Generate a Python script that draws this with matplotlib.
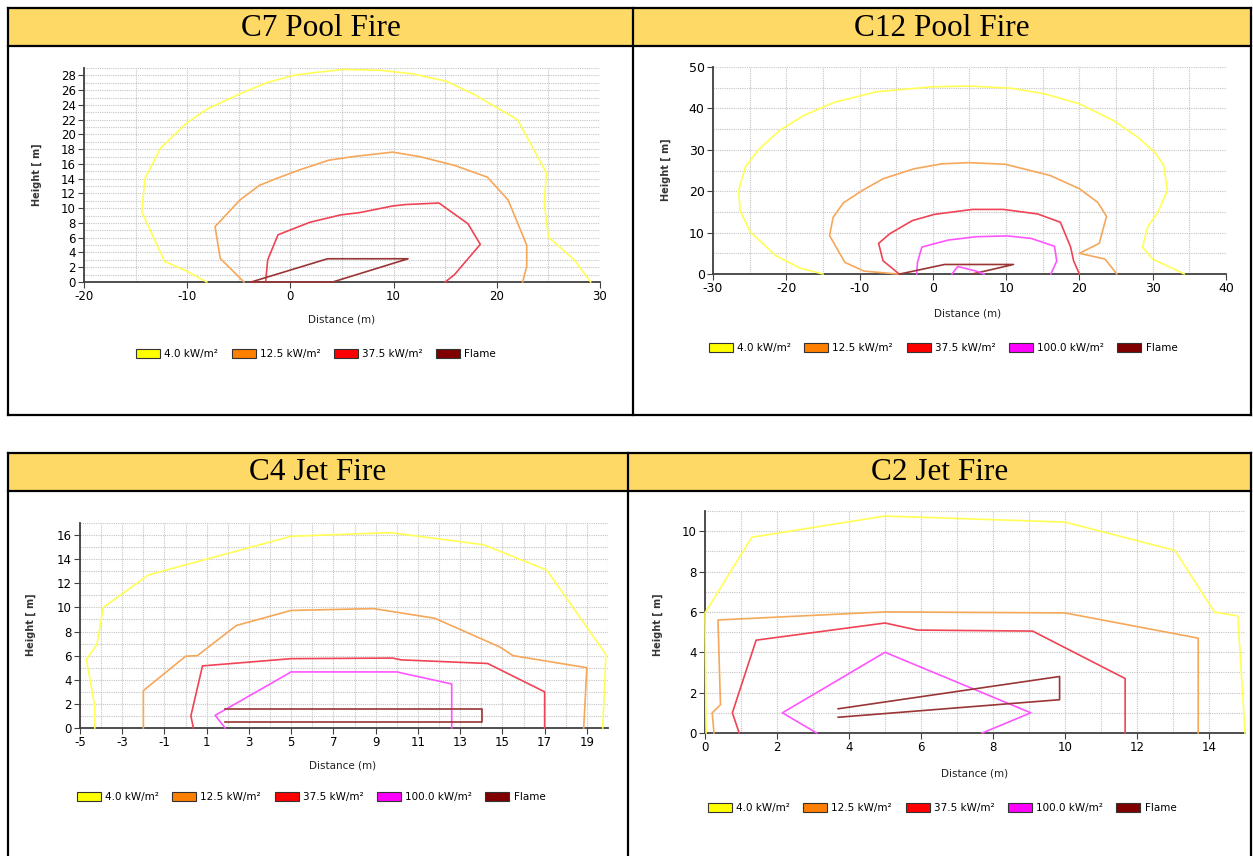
import matplotlib
matplotlib.use("Agg")
import matplotlib.pyplot as plt
import matplotlib.patches as mpatches
from matplotlib.lines import Line2D
from matplotlib.ticker import MultipleLocator

plt.rcParams["axes.unicode_minus"] = False

# ---- C7 pool fire ----
c7_x_4 = [-8.1, -10.1, -12.2, -14.4, -14.1, -12.6, -10.1, -8.1, -4.9, -2.3, 0.3, 2.5, 5.1, 8.6,
          11.9, 15.1, 17.7, 19.3, 22.0, 24.8, 24.6, 25.0, 27.5, 29.1]
c7_y_4 = [0, 1.5, 2.8, 9.5, 14.0, 18.1, 21.5, 23.4, 25.5, 27.0, 28.0, 28.4, 28.8, 28.7,
          28.2, 27.2, 25.5, 24.2, 22.0, 14.8, 10.7, 6.1, 3.0, 0]
c7_x_12 = [-4.5, -6.8, -7.3, -4.9, -3.0, -1.4, 0.9, 3.7, 6.1, 9.9, 12.5, 15.9, 19.1, 21.1, 22.9, 22.9, 22.5]
c7_y_12 = [0, 3.2, 7.5, 11.1, 13.1, 14.0, 15.2, 16.5, 17.0, 17.6, 17.0, 15.8, 14.2, 11.1, 5.0, 2.1, 0]
c7_x_37 = [-2.4, -2.2, -1.2, 1.9, 4.9, 6.7, 9.9, 11.2, 14.4, 17.2, 18.4, 15.9, 15.0]
c7_y_37 = [0, 3.0, 6.4, 8.1, 9.1, 9.4, 10.3, 10.5, 10.7, 7.9, 5.1, 1.0, 0]
c7_flame_x = [-3.8, 3.6, 11.4, 4.1, -3.8]
c7_flame_y = [0, 3.15, 3.15, 0, 0]

# ---- C12 pool fire ----
c12_x_4 = [-15.0, -18.1, -21.4, -24.9, -26.3, -26.5, -25.6, -23.7, -20.9, -17.6, -13.4, -7.7, -0.2,
           4.9, 10.6, 15.3, 20.0, 24.6, 27.9, 30.3, 31.5, 32.0, 30.8, 29.3, 28.6, 30.0, 34.3]
c12_y_4 = [0, 1.4, 4.4, 10.1, 15.3, 20.2, 25.8, 30.2, 34.7, 38.3, 41.5, 44.0, 45.2,
           45.4, 44.9, 43.5, 41.1, 37.1, 33.1, 29.4, 26.2, 20.2, 15.3, 11.3, 6.5, 3.6, 0]
c12_x_12 = [-4.8, -9.4, -12.0, -14.1, -13.6, -12.2, -9.6, -6.8, -2.6, 1.2, 4.9, 9.9, 16.0, 20.0,
            22.5, 23.7, 22.7, 20.0, 23.5, 25.1]
c12_y_12 = [0, 0.7, 2.8, 9.3, 13.7, 17.2, 20.2, 23.0, 25.4, 26.6, 26.9, 26.5, 23.8, 20.6,
            17.3, 13.9, 7.4, 5.0, 3.6, 0]
c12_x_37 = [-4.6, -6.8, -7.4, -5.9, -2.8, 0.2, 5.4, 9.6, 14.3, 17.4, 18.8, 19.2, 20.0]
c12_y_37 = [0, 3.2, 7.4, 9.7, 12.9, 14.4, 15.6, 15.6, 14.5, 12.5, 6.5, 3.2, 0]
c12_x_100 = [-2.2, -2.1, -1.5, 2.1, 5.9, 10.1, 13.4, 16.6, 16.9, 16.1]
c12_y_100 = [0, 2.8, 6.5, 8.2, 9.0, 9.2, 8.6, 6.7, 3.1, 0]
c12_x_100b = [2.6, 3.4, 5.9, 7.0]
c12_y_100b = [0, 1.8, 0.7, 0]
c12_flame_x = [-4.5, 1.6, 11.0, 5.4]
c12_flame_y = [0, 2.3, 2.3, 0]

# ---- C4 jet fire ----
c4_x_4 = [-4.3, -4.3, -4.7, -4.2, -3.9, -1.75, 5.0, 9.7, 14.1, 17.1, 19.9, 19.75]
c4_y_4 = [0, 1.8, 5.7, 6.9, 10.0, 12.7, 15.9, 16.2, 15.2, 13.1, 6.1, 0]
c4_x_12 = [-2.0, -2.0, 0.0, 0.56, 2.4, 5.0, 8.9, 11.8, 14.9, 15.5, 19.0, 18.85]
c4_y_12 = [0, 3.1, 5.95, 6.0, 8.5, 9.75, 9.9, 9.1, 6.7, 6.0, 5.0, 0]
c4_x_37 = [0.37, 0.25, 0.8, 5.0, 9.8, 10.2, 14.3, 17.0, 17.0]
c4_y_37 = [0, 1.0, 5.15, 5.75, 5.8, 5.65, 5.35, 3.0, 0]
c4_x_100 = [1.87, 1.4, 5.0, 10.0, 12.6, 12.6]
c4_y_100 = [0, 1.05, 4.65, 4.65, 3.65, 0]
c4_flame_x = [1.85, 14.05, 14.05, 1.85]
c4_flame_y = [1.55, 1.55, 0.5, 0.5]

# ---- C2 jet fire ----
c2_x_4 = [0.03, 0.0, 1.3, 5.0, 10.0, 13.05, 14.15, 14.8, 15.0]
c2_y_4 = [0, 5.95, 9.7, 10.75, 10.45, 9.05, 6.0, 5.8, 0]
c2_x_12 = [0.25, 0.2, 0.43, 0.36, 5.0, 10.0, 13.7, 13.7]
c2_y_12 = [0, 1.0, 1.4, 5.6, 6.0, 5.95, 4.7, 0]
c2_x_37 = [0.95, 0.76, 1.42, 5.0, 5.9, 9.1, 11.67, 11.67]
c2_y_37 = [0, 1.0, 4.6, 5.45, 5.1, 5.05, 2.7, 0]
c2_x_100 = [3.1, 2.15, 5.0, 9.05, 7.7]
c2_y_100 = [0, 1.0, 4.0, 1.0, 0]
c2_flame_x = [3.7, 9.85, 9.85, 3.7]
c2_flame_y = [1.2, 2.8, 1.65, 0.78]

titles = ["C7 Pool Fire", "C12 Pool Fire", "C4 Jet Fire", "C2 Jet Fire"]
legendLabels = ["4.0 kW/m²", "12.5 kW/m²", "37.5 kW/m²", "100.0 kW/m²", "Flame"]
patchColours = ["#ffff00", "#ff8000", "#ff0000", "#ff00ff", "#800000"]
lineColours = ["#ffff55", "#f5a75a", "#ee4455", "#ff55ff", "#9a3535"]

W, H = 1253, 856
fig = plt.figure(figsize=(W / 100, H / 100), dpi=100)
fig.patch.set_facecolor("white")


def fx(x):
    return x / W


def fy(y):
    return 1 - y / H


def hline(y, x0, x1):
    fig.add_artist(Line2D([fx(x0), fx(x1)], [fy(y), fy(y)], color="black", lw=1.6))


def vline(x, y0, y1):
    fig.add_artist(Line2D([fx(x), fx(x)], [fy(y0), fy(y1)], color="black", lw=1.6))


# header cells (yellow) and table borders
headers = [(8, 633, 8, 46), (633, 1251, 8, 46), (8, 628, 453, 491), (628, 1251, 453, 491)]
for i, (x0, x1, y0, y1) in enumerate(headers):
    fig.add_artist(mpatches.Rectangle((fx(x0), fy(y1)), fx(x1) - fx(x0), fy(y0) - fy(y1),
                                      facecolor="#ffd966", edgecolor="none"))
    fig.text(fx((x0 + x1) / 2), fy((y0 + y1) / 2 + 1), titles[i], family="Liberation Serif",
             fontsize=22.5, ha="center", va="center")

for y in [8, 46, 415]:
    hline(y, 8, 1251)
for x in [8, 633, 1251]:
    vline(x, 8, 415)
for y in [453, 491]:
    hline(y, 8, 1251)
for x in [8, 628, 1251]:
    vline(x, 453, 860)


def drawPanel(box, series, xlim, ylim, xstep, ystep, xgrid, ygrid, tickSize, labelPos, legendPos):
    left, right, top, bottom = box
    ax = fig.add_axes([fx(left), fy(bottom), fx(right) - fx(left), fy(top) - fy(bottom)])
    for (xs, ys), col in series:
        ax.plot(xs, ys, color=col, lw=1.2, clip_on=False, zorder=3)
    ax.set_xlim(xlim)
    ax.set_ylim(ylim)
    ax.xaxis.set_major_locator(MultipleLocator(xstep, offset=xlim[0] % xstep))
    ax.yaxis.set_major_locator(MultipleLocator(ystep))
    ax.xaxis.set_minor_locator(MultipleLocator(xgrid, offset=xlim[0] % xgrid))
    ax.yaxis.set_minor_locator(MultipleLocator(ygrid))
    ax.grid(which="both", color="#c4c4c4", ls=(0, (1, 1)), lw=0.8, zorder=0)
    ax.tick_params(which="minor", length=0)
    ax.tick_params(which="major", length=4, color="#404040", labelsize=tickSize, pad=2)
    for side in ["top", "right"]:
        ax.spines[side].set_visible(False)
    for side in ["left", "bottom"]:
        ax.spines[side].set_color("#404040")
        ax.spines[side].set_linewidth(1.3)
    xl, yl = labelPos
    fig.text(fx(xl[0]), fy(xl[1]), "Distance (m)", fontsize=7.5, ha="center", va="center", color="#222222")
    fig.text(fx(yl[0]), fy(yl[1]), "Height [ m]", fontsize=7, ha="center", va="center",
             rotation=90, fontweight="bold", color="#333333")
    n = len(series) - (1 if len(series) > 5 else 0)
    handles = []
    labels = []
    for k in range(n):
        idx = k if (n == 5 or k < 3) else 4
        handles.append(mpatches.Patch(facecolor=patchColours[idx], edgecolor="#333333", lw=0.8))
        labels.append(legendLabels[idx])
    fig.legend(handles, labels, loc="center", bbox_to_anchor=(fx(legendPos[0]), fy(legendPos[1])),
               ncol=n, frameon=False, fontsize=7.5, handlelength=2.3, handleheight=0.9,
               columnspacing=1.3, handletextpad=0.4)
    return ax


drawPanel((84, 600, 68, 282),
          [((c7_x_4, c7_y_4), lineColours[0]), ((c7_x_12, c7_y_12), lineColours[1]),
           ((c7_x_37, c7_y_37), lineColours[2]), ((c7_flame_x, c7_flame_y), lineColours[4])],
          (-20, 30), (0, 29), 10, 2, 5, 1, 8.5, ((342, 320), (37, 175)), (316, 354))

drawPanel((713, 1226, 67, 274),
          [((c12_x_4, c12_y_4), lineColours[0]), ((c12_x_12, c12_y_12), lineColours[1]),
           ((c12_x_37, c12_y_37), lineColours[2]), ((c12_x_100, c12_y_100), lineColours[3]),
           ((c12_flame_x, c12_flame_y), lineColours[4]), ((c12_x_100b, c12_y_100b), lineColours[3])],
          (-30, 40), (0, 50), 10, 10, 5, 5, 9, ((968, 313), (666, 170)), (943, 348))

drawPanel((80, 608, 523, 728),
          [((c4_x_4, c4_y_4), lineColours[0]), ((c4_x_12, c4_y_12), lineColours[1]),
           ((c4_x_37, c4_y_37), lineColours[2]), ((c4_x_100, c4_y_100), lineColours[3]),
           ((c4_flame_x, c4_flame_y), lineColours[4])],
          (-5, 20), (0, 17), 2, 2, 1, 1, 8.5, ((343, 765), (31, 625)), (311, 797))

drawPanel((705, 1245, 511, 733),
          [((c2_x_4, c2_y_4), lineColours[0]), ((c2_x_12, c2_y_12), lineColours[1]),
           ((c2_x_37, c2_y_37), lineColours[2]), ((c2_x_100, c2_y_100), lineColours[3]),
           ((c2_flame_x, c2_flame_y), lineColours[4])],
          (0, 15), (0, 11), 2, 2, 1, 1, 8.5, ((975, 773), (658, 625)), (942, 808))

fig.savefig("out.png", dpi=100)
